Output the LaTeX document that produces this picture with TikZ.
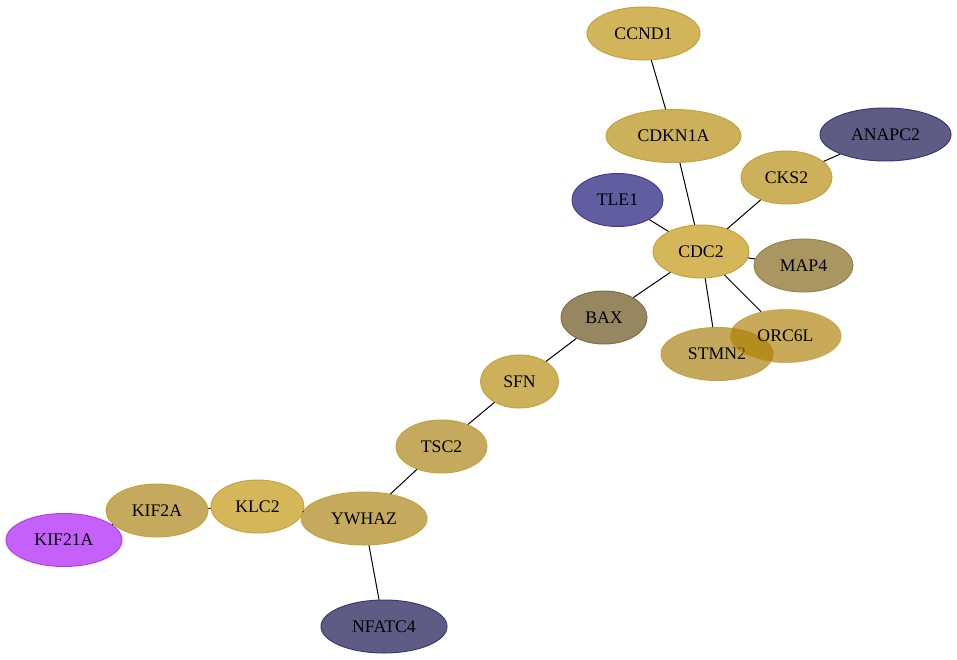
\documentclass[tikz,border=0pt]{standalone}
\usepackage{fontspec}
\setmainfont{Liberation Serif}
\usetikzlibrary{shapes.geometric}
\definecolor{gA}{HTML}{D2B45A}
\definecolor{gB}{HTML}{CDB05A}
\definecolor{gC}{HTML}{D5B75A}
\definecolor{gD}{HTML}{C5A95D}
\definecolor{gE}{HTML}{C4A85C}
\definecolor{gO}{RGB}{172,125,0}
\definecolor{gbd}{HTML}{C6A23C}
\definecolor{mapf}{HTML}{AA9660}
\definecolor{mapd}{HTML}{968450}
\definecolor{baxf}{HTML}{978760}
\definecolor{baxd}{HTML}{7E7048}
\definecolor{tlef}{HTML}{605DA0}
\definecolor{tled}{HTML}{403D90}
\definecolor{pgf}{HTML}{5E5C85}
\definecolor{pgd}{HTML}{3A3878}
\definecolor{kif}{HTML}{C560FA}
\definecolor{kid}{HTML}{B040E8}
\tikzset{
  gene/.style={ellipse, inner sep=0pt, line width=1pt, minimum height=53pt,
    font=\fontsize{17.7}{20}\selectfont},
  gold/.style={gene, draw=gbd, fill=#1},
  edge/.style={line width=1pt, black}
}
\begin{document}
\begin{tikzpicture}[x=1pt,y=-1pt]
\useasboundingbox (0,0) rectangle (957,660);
\node[gold=gA, minimum width=113pt] (CCND1) at (643.5,33.5) {CCND1};
\node[gold=gB, minimum width=135pt] (CDKN1A) at (673.5,136) {CDKN1A};
\node[gene, draw=pgd, fill=pgf, minimum width=131pt] (ANAPC2) at (885.5,134.5) {ANAPC2};
\node[gold=gB, minimum width=91pt] (CKS2) at (786.5,177.5) {CKS2};
\node[gene, draw=tled, fill=tlef, minimum width=91pt] (TLE1) at (617.5,200) {TLE1};
\node[gold=gC, minimum width=96pt] (CDC2) at (701,251.5) {CDC2};
\node[gene, draw=mapd, fill=mapf, minimum width=99pt] (MAP4) at (803.5,265.5) {MAP4};
\node[gene, draw=baxd, fill=baxf, minimum width=86pt] (BAX) at (604,317.5) {BAX};
\node[gold=gE, minimum width=112pt] (STMN2) at (717,354) {STMN2};
\node[gene, draw=gbd, draw opacity=0.7, fill=gO, fill opacity=0.65, text opacity=1, minimum width=111pt] (ORC6L) at (785.5,336) {ORC6L};
\node[gold=gB, minimum width=78pt] (SFN) at (519.5,381.5) {SFN};
\node[gold=gD, minimum width=91pt] (TSC2) at (441.5,446.5) {TSC2};
\node[gold=gD, minimum width=126pt] (YWHAZ) at (364,518.5) {YWHAZ};
\node[gold=gC, minimum width=93pt] (KLC2) at (257.5,506.5) {KLC2};
\node[gold=gD, minimum width=102pt] (KIF2A) at (157,510.5) {KIF2A};
\node[gene, draw=kid, fill=kif, minimum width=116pt] (KIF21A) at (64,540) {KIF21A};
\node[gene, draw=pgd, fill=pgf, minimum width=126pt] (NFATC4) at (384,626.5) {NFATC4};
\draw[edge] (CCND1) -- (CDKN1A);
\draw[edge] (CDKN1A) -- (CDC2);
\draw[edge] (CKS2) -- (ANAPC2);
\draw[edge] (CKS2) -- (CDC2);
\draw[edge] (TLE1) -- (CDC2);
\draw[edge] (CDC2) -- (MAP4);
\draw[edge] (CDC2) -- (BAX);
\draw[edge] (CDC2) -- (STMN2);
\draw[edge] (CDC2) -- (ORC6L);
\draw[edge] (BAX) -- (SFN);
\draw[edge] (SFN) -- (TSC2);
\draw[edge] (TSC2) -- (YWHAZ);
\draw[edge] (YWHAZ) -- (KLC2);
\draw[edge] (KLC2) -- (KIF2A);
\draw[edge] (KIF2A) -- (KIF21A);
\draw[edge] (YWHAZ) -- (NFATC4);
\end{tikzpicture}
\end{document}
